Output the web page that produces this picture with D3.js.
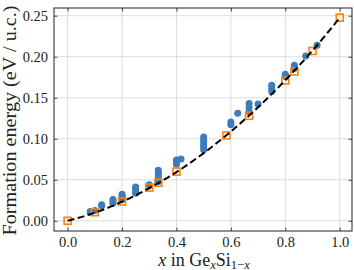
<!DOCTYPE html>
<html>
<head>
<meta charset="utf-8">
<script src="https://cdn.jsdelivr.net/npm/d3@7"></script>
<style>
  body { margin: 0; background: #fff; }
  svg text { font-family: "Liberation Serif", "DejaVu Serif", serif; fill: #222; }
</style>
</head>
<body>
<div id="chart"></div>
<script>
// computed structures (blue dots), several per composition
var blueX = [0.0833, 0.0833, 0.1, 0.125, 0.125,
  0.1667, 0.1667, 0.1667, 0.2, 0.2, 0.2, 0.2,
  0.25, 0.25, 0.25, 0.25, 0.3, 0.3333, 0.3333, 0.3333, 0.3333, 0.3333,
  0.4, 0.4, 0.4, 0.4167, 0.5, 0.5, 0.5, 0.5, 0.5, 0.5,
  0.6, 0.6, 0.625, 0.6667, 0.6667, 0.6667, 0.7,
  0.75, 0.75, 0.75, 0.8, 0.8, 0.8333, 0.8333, 0.875, 0.9167];
var blueY = [0.0105, 0.0115, 0.0125, 0.0185, 0.0195,
  0.0214, 0.0236, 0.0259, 0.0262, 0.0283, 0.0303, 0.0323,
  0.0335, 0.0360, 0.0387, 0.0413, 0.0440, 0.0478, 0.0510, 0.0545, 0.0580, 0.0616,
  0.0690, 0.0715, 0.0740, 0.0755, 0.0865, 0.0895, 0.0925, 0.0960, 0.0990, 0.1023,
  0.1170, 0.1205, 0.1310, 0.1333, 0.1380, 0.1430, 0.1423,
  0.1576, 0.1615, 0.1653, 0.1760, 0.1785, 0.1860, 0.1896, 0.2008, 0.2140];

// ground-state structures (orange squares)
var hullX = [0, 0.1, 0.2, 0.3, 0.3333, 0.4, 0.5833, 0.6667, 0.8, 0.8333, 0.9, 1.0];
var hullY = [0, 0.0105, 0.0235, 0.0405, 0.0465, 0.0600, 0.1040, 0.1280, 0.1710, 0.1820, 0.2070, 0.2476];

// dashed fit
var fitX = [0, 0.1, 0.2, 0.3, 0.4, 0.5, 0.6, 0.7, 0.8, 0.9, 1.0];
var fitY = [0, 0.0099, 0.0232, 0.0397, 0.0594, 0.0825, 0.1089, 0.1385, 0.1714, 0.2075, 0.2476];

var xTicks = [0, 0.2, 0.4, 0.6, 0.8, 1.0];
var yTicks = [0, 0.05, 0.10, 0.15, 0.20, 0.25];

var W = 354, H = 270;
var m = {left: 54, right: 2, top: 8, bottom: 39};
var serif = "'Liberation Serif', 'DejaVu Serif', serif";

var svg = d3.select("#chart").append("svg")
  .attr("width", W).attr("height", H);

var x = d3.scaleLinear().domain([-0.05, 1.045]).range([m.left, W - m.right]);
var y = d3.scaleLinear().domain([-0.0124, 0.2594]).range([H - m.bottom, m.top]);

// grid
svg.append("g").selectAll("line").data(xTicks).enter().append("line")
  .attr("x1", d => x(d)).attr("x2", d => x(d))
  .attr("y1", m.top).attr("y2", H - m.bottom)
  .attr("stroke", "#dcdcdc").attr("stroke-width", 1);
svg.append("g").selectAll("line").data(yTicks).enter().append("line")
  .attr("y1", d => y(d)).attr("y2", d => y(d))
  .attr("x1", m.left).attr("x2", W - m.right)
  .attr("stroke", "#dcdcdc").attr("stroke-width", 1);

// axes with inward ticks on all four sides
function fmtX(d) { return d.toFixed(1); }
function fmtY(d) { return d.toFixed(2); }

var axB = svg.append("g").attr("transform", "translate(0," + (H - m.bottom) + ")")
  .call(d3.axisBottom(x).tickValues(xTicks).tickFormat(fmtX).tickSizeInner(-3.5).tickSizeOuter(0).tickPadding(6));
var axT = svg.append("g").attr("transform", "translate(0," + m.top + ")")
  .call(d3.axisTop(x).tickValues(xTicks).tickFormat("").tickSizeInner(-3.5).tickSizeOuter(0));
var axL = svg.append("g").attr("transform", "translate(" + m.left + ",0)")
  .call(d3.axisLeft(y).tickValues(yTicks).tickFormat(fmtY).tickSizeInner(-3.5).tickSizeOuter(0).tickPadding(6));
var axR = svg.append("g").attr("transform", "translate(" + (W - m.right) + ",0)")
  .call(d3.axisRight(y).tickValues(yTicks).tickFormat("").tickSizeInner(-3.5).tickSizeOuter(0));

[axB, axT, axL, axR].forEach(function (a) {
  a.attr("font-family", serif);
  a.select(".domain").remove();
  a.selectAll("line").attr("stroke", "#222").attr("stroke-width", 0.8);
  a.selectAll("text").attr("font-size", 14.5).attr("fill", "#222")
    .style("font-family", serif);
});

// frame
svg.append("rect")
  .attr("x", m.left).attr("y", m.top)
  .attr("width", W - m.right - m.left).attr("height", H - m.bottom - m.top)
  .attr("fill", "none").attr("stroke", "#222").attr("stroke-width", 1);

// blue points
svg.append("g").selectAll("circle").data(blueX).enter().append("circle")
  .attr("cx", d => x(d))
  .attr("cy", (d, i) => y(blueY[i]))
  .attr("r", 3.5)
  .attr("fill", "#3a7dba");

// orange squares
svg.append("g").selectAll("rect").data(hullX).enter().append("rect")
  .attr("x", d => x(d) - 3.5)
  .attr("y", (d, i) => y(hullY[i]) - 3.5)
  .attr("width", 7).attr("height", 7)
  .attr("fill", "none").attr("stroke", "#ff7f0e").attr("stroke-width", 1.6);

// fit line
var line = d3.line()
  .x(d => x(d))
  .y((d, i) => y(fitY[i]))
  .curve(d3.curveMonotoneX);
svg.append("path").datum(fitX)
  .attr("d", line)
  .attr("fill", "none").attr("stroke", "#000")
  .attr("stroke-width", 2).attr("stroke-dasharray", "7,3.5");

// axis labels
var xl = svg.append("text")
  .attr("x", 204).attr("y", 266)
  .attr("text-anchor", "middle").attr("font-size", 18);
xl.append("tspan").attr("font-style", "italic").text("x");
xl.append("tspan").text(" in Ge");
xl.append("tspan").attr("font-style", "italic").attr("font-size", 12.5).attr("dy", 2.5).text("x");
xl.append("tspan").attr("dy", -2.5).text("Si");
xl.append("tspan").attr("font-size", 12.5).attr("dy", 2.5).text("1\u2212");
xl.append("tspan").attr("font-size", 12.5).attr("font-style", "italic").text("x");

svg.append("text")
  .attr("transform", "translate(16," + ((m.top + H - m.bottom) / 2 + 1) + ") rotate(-90)")
  .attr("text-anchor", "middle").attr("font-size", 18)
  .attr("textLength", 230).attr("lengthAdjust", "spacingAndGlyphs")
  .text("Formation energy (eV / u.c.)");
</script>
</body>
</html>
